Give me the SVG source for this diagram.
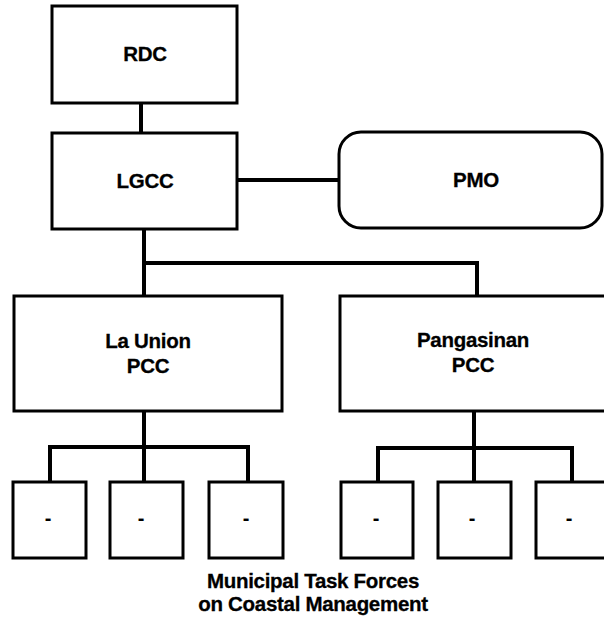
<svg xmlns="http://www.w3.org/2000/svg" width="604" height="633" viewBox="0 0 604 633">
  <style>
    .box { fill: #fff; stroke: #000; stroke-width: 3; }
    .link { fill: none; stroke: #000; stroke-width: 4; stroke-linecap: square; }
    .lbl { font-family: "Liberation Sans", Arial, sans-serif; font-weight: bold; font-size: 20.5px; fill: #000; text-anchor: middle; letter-spacing: -0.3px; stroke: #000; stroke-width: 0.3; }
    .dash { font-family: "Liberation Sans", Arial, sans-serif; font-weight: bold; font-size: 20px; fill: #000; text-anchor: middle; }
  </style>
  <rect width="604" height="633" fill="#fff"/>

  <!-- connectors -->
  <g id="connectors">
    <path class="link" d="M141 103 V133"/>
    <path class="link" d="M237 180 H339"/>
    <path class="link" d="M144 229 V296 M144 263 H477 V296"/>
    <path class="link" d="M144 411 V447 M50 482 V447 H248 V482 M144 447 V482"/>
    <path class="link" d="M474 411 V448 M378 482 V448 H572 V482 M474 448 V482"/>
  </g>

  <g id="rdc">
    <rect class="box" x="52" y="6" width="185" height="97"/>
    <text class="lbl" x="145" y="61">RDC</text>
  </g>
  <g id="lgcc">
    <rect class="box" x="52" y="133" width="185" height="96"/>
    <text class="lbl" x="145" y="188">LGCC</text>
  </g>
  <g id="pmo">
    <rect class="box" x="339" y="132" width="263" height="96" rx="22" ry="22"/>
    <text class="lbl" x="476" y="187">PMO</text>
  </g>
  <g id="la-union-pcc">
    <rect class="box" x="14" y="296" width="268" height="115"/>
    <text class="lbl" x="148" y="348">La Union</text>
    <text class="lbl" x="148" y="373">PCC</text>
  </g>
  <g id="pangasinan-pcc">
    <rect class="box" x="340" y="296" width="270" height="115"/>
    <text class="lbl" x="473" y="347">Pangasinan</text>
    <text class="lbl" x="473" y="372">PCC</text>
  </g>

  <!-- municipal task forces -->
  <g id="mtf-1"><rect class="box" x="13" y="482" width="73" height="76"/><text class="dash" x="48" y="525">-</text></g>
  <g id="mtf-2"><rect class="box" x="110" y="482" width="73" height="76"/><text class="dash" x="141" y="525">-</text></g>
  <g id="mtf-3"><rect class="box" x="209" y="482" width="74" height="76"/><text class="dash" x="246" y="525">-</text></g>
  <g id="mtf-4"><rect class="box" x="341" y="482" width="72" height="76"/><text class="dash" x="376" y="525">-</text></g>
  <g id="mtf-5"><rect class="box" x="438" y="482" width="73" height="76"/><text class="dash" x="472" y="525">-</text></g>
  <g id="mtf-6"><rect class="box" x="536" y="482" width="74" height="76"/><text class="dash" x="569" y="525">-</text></g>

  <g id="caption">
    <text class="lbl" x="313" y="588">Municipal Task Forces</text>
    <text class="lbl" x="313" y="611">on Coastal Management</text>
  </g>
</svg>
